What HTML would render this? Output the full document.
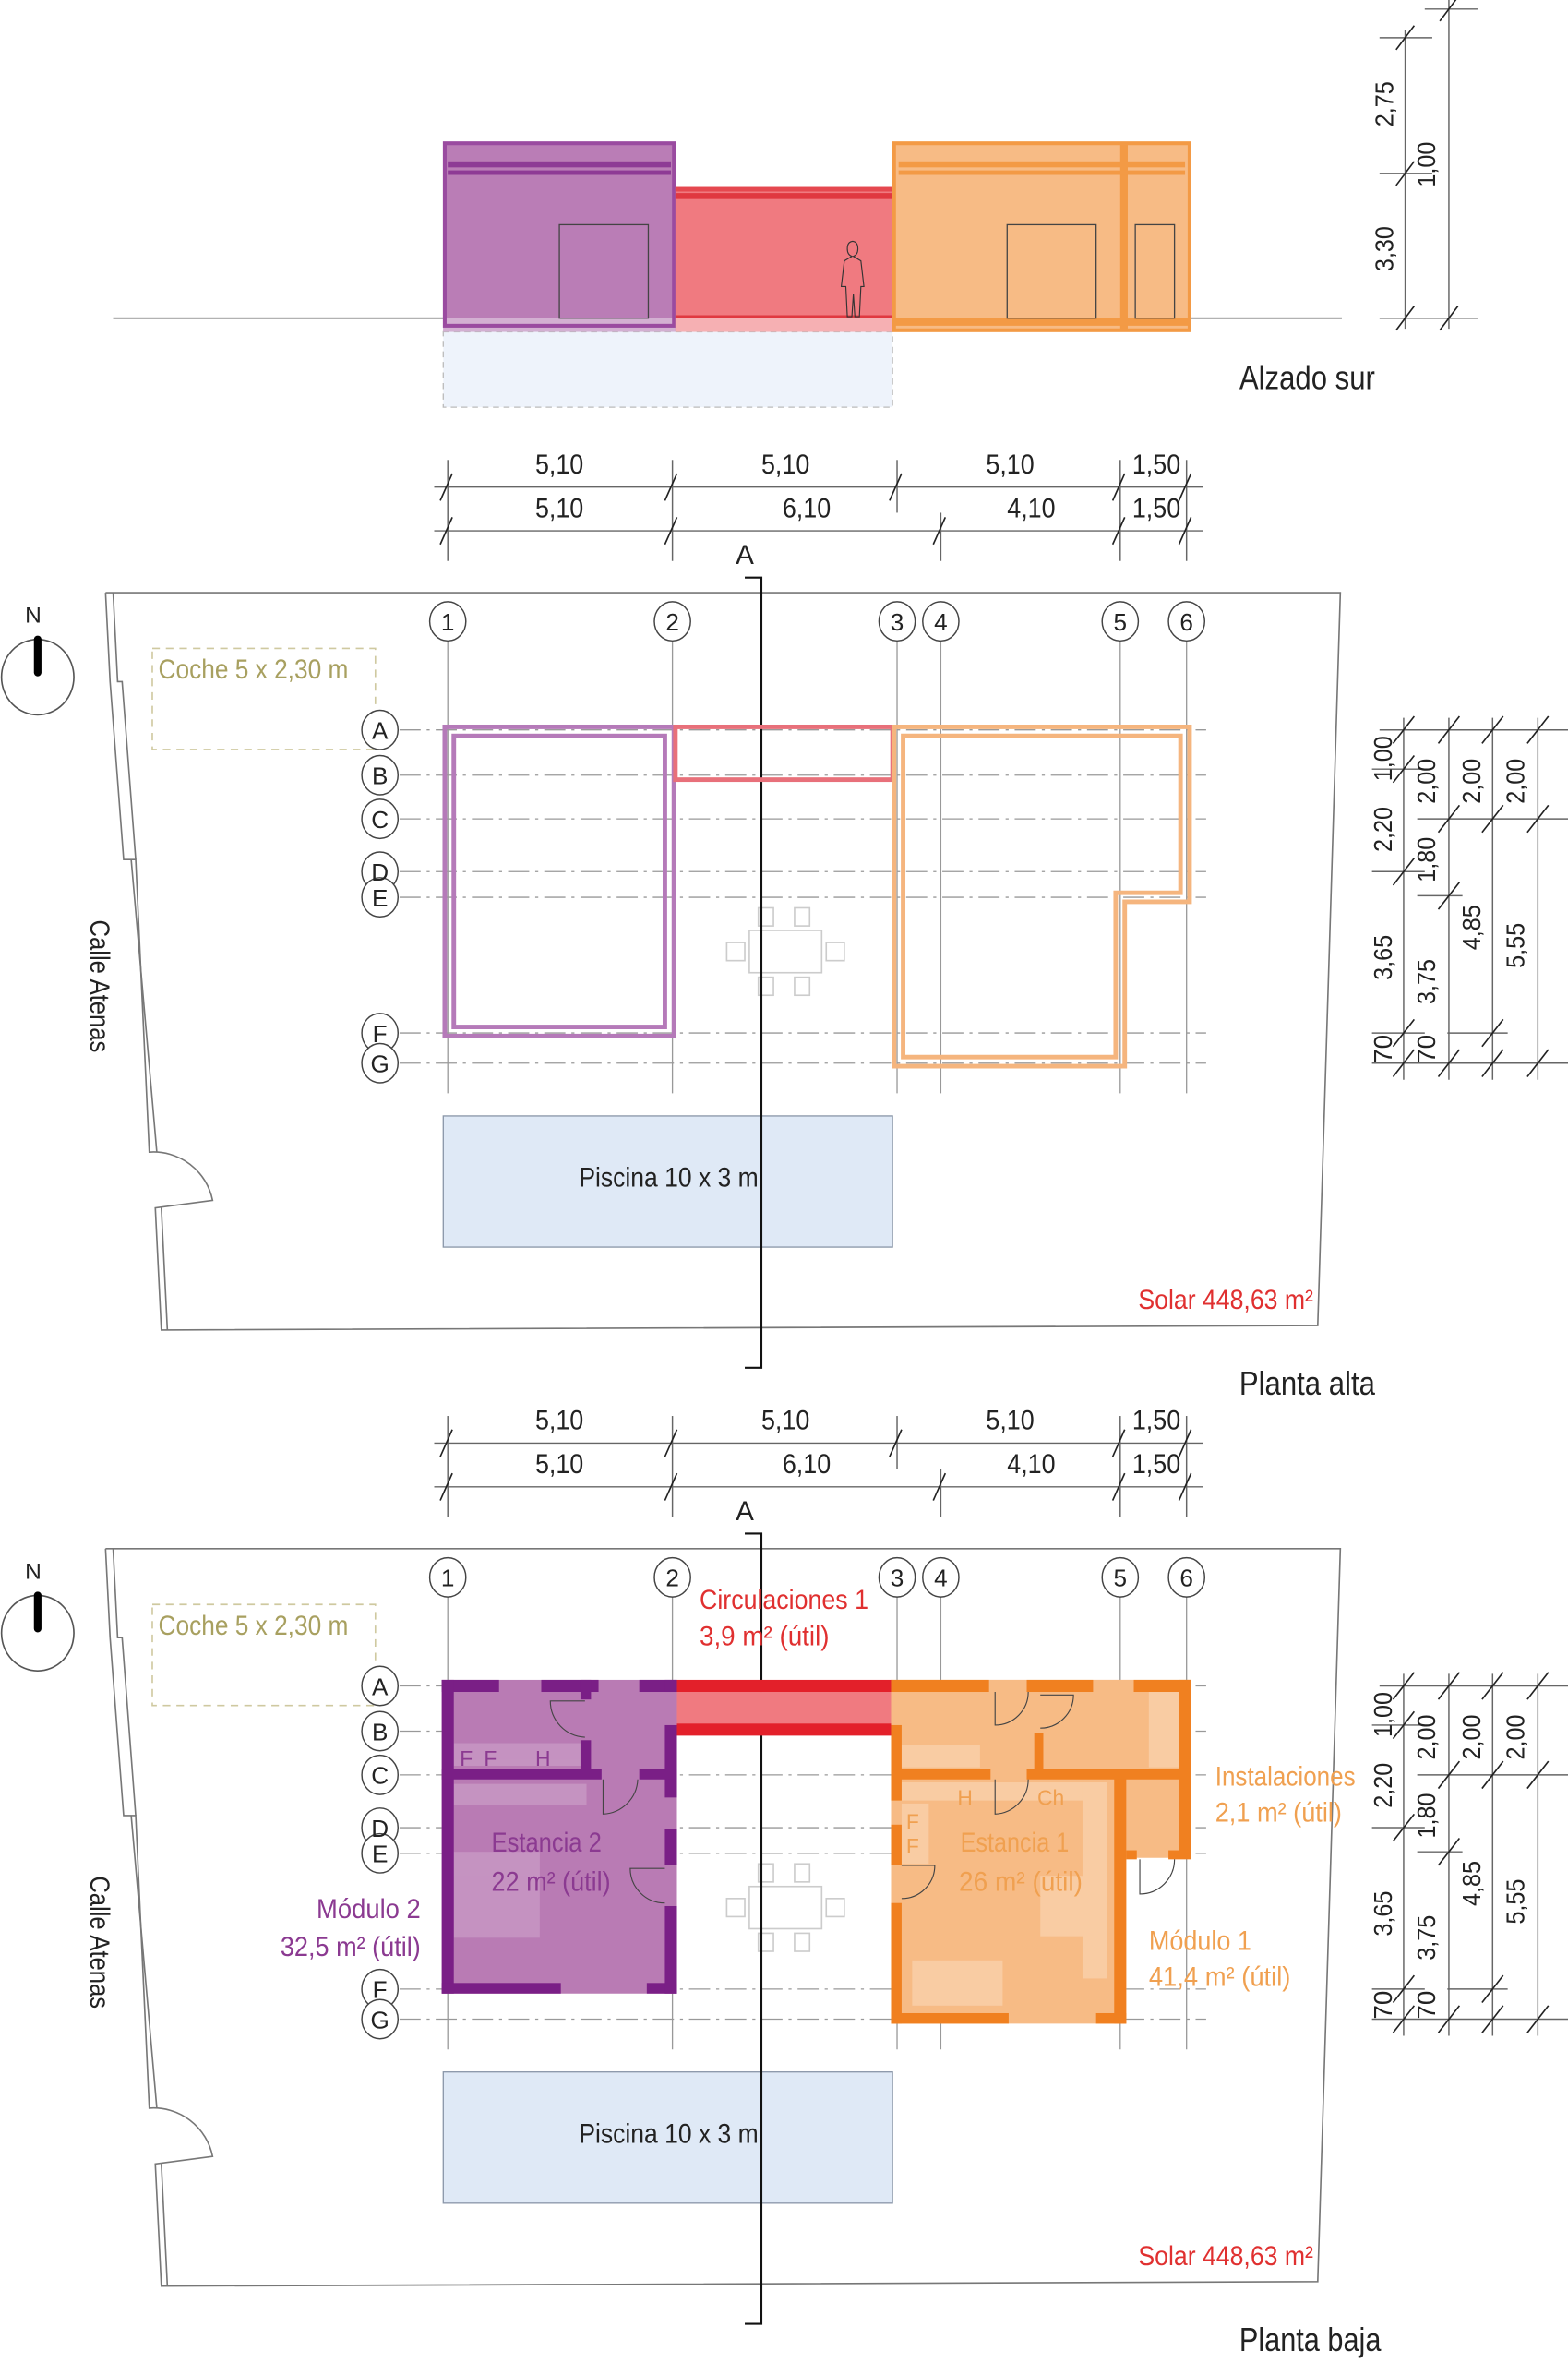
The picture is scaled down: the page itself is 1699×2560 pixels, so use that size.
<!DOCTYPE html>
<html><head><meta charset="utf-8">
<style>
html,body{margin:0;padding:0;background:#fff;}
svg{display:block;}
text{font-family:"Liberation Sans Narrow","Liberation Sans",sans-serif;}
</style></head>
<body>
<svg width="1699" height="2560" viewBox="0 0 1040 1567" preserveAspectRatio="none" xmlns="http://www.w3.org/2000/svg">
<defs>
<g id="plan">
  <path d="M70,393 L889,393 L874,879 L107,882 L103,801 L141,796 A40 40 0 0 0 99,764 L90,570 L82,570 L73,452 L70,393" fill="none" stroke="#777" stroke-width="1"/>
  <path d="M75,393 L78,452 L81,452 L90,570 M87,570 L104,764 M107,801 L111,882" fill="none" stroke="#777" stroke-width="1"/>
  <ellipse cx="25" cy="449" rx="24" ry="25" fill="none" stroke="#555" stroke-width="1"/>
  <line x1="25" y1="424" x2="25" y2="446" stroke="#000" stroke-width="5" stroke-linecap="round"/>
  <rect x="101" y="430" width="148" height="67" fill="none" stroke="#cfc9a0" stroke-width="1" stroke-dasharray="5,4"/>
  <g stroke="#999" stroke-width="0.8">
    <line x1="297" y1="425" x2="297" y2="725"/><line x1="446" y1="425" x2="446" y2="725"/>
    <line x1="595" y1="425" x2="595" y2="725"/><line x1="624" y1="425" x2="624" y2="725"/>
    <line x1="743" y1="425" x2="743" y2="725"/><line x1="787" y1="425" x2="787" y2="725"/>
  </g>
  <g stroke="#999" stroke-width="0.8" stroke-dasharray="14,4,2,4">
    <line x1="265" y1="484" x2="800" y2="484"/><line x1="265" y1="514" x2="800" y2="514"/>
    <line x1="265" y1="543" x2="800" y2="543"/><line x1="265" y1="578" x2="800" y2="578"/>
    <line x1="265" y1="595" x2="800" y2="595"/><line x1="265" y1="685" x2="800" y2="685"/>
    <line x1="265" y1="705" x2="800" y2="705"/>
  </g>
  <g fill="#fff" stroke="#444" stroke-width="0.9">
    <ellipse cx="297" cy="412" rx="12" ry="13"/><ellipse cx="446" cy="412" rx="12" ry="13"/>
    <ellipse cx="595" cy="412" rx="12" ry="13"/><ellipse cx="624" cy="412" rx="12" ry="13"/>
    <ellipse cx="743" cy="412" rx="12" ry="13"/><ellipse cx="787" cy="412" rx="12" ry="13"/>
    <ellipse cx="252" cy="484" rx="12" ry="13"/><ellipse cx="252" cy="514" rx="12" ry="13"/>
    <ellipse cx="252" cy="543" rx="12" ry="13"/><ellipse cx="252" cy="578" rx="12" ry="13"/>
    <ellipse cx="252" cy="595" rx="12" ry="13"/><ellipse cx="252" cy="685" rx="12" ry="13"/>
    <ellipse cx="252" cy="705" rx="12" ry="13"/>
  </g>
  <g fill="none" stroke="#ccc" stroke-width="1">
    <rect x="497" y="617" width="48" height="28"/>
    <rect x="503" y="602" width="10" height="12"/><rect x="527" y="602" width="10" height="12"/>
    <rect x="503" y="648" width="10" height="12"/><rect x="527" y="648" width="10" height="12"/>
    <rect x="482" y="625" width="12" height="12"/><rect x="548" y="625" width="12" height="12"/>
  </g>
  <rect x="294" y="740" width="298" height="87" fill="#dfe9f6" stroke="#8a96a8" stroke-width="0.8"/>
  <g stroke="#666" stroke-width="0.9">
    <line x1="288" y1="323" x2="798" y2="323"/><line x1="288" y1="352" x2="798" y2="352"/>
    <line x1="297" y1="305" x2="297" y2="372"/><line x1="446" y1="305" x2="446" y2="372"/>
    <line x1="595" y1="305" x2="595" y2="340"/><line x1="624" y1="340" x2="624" y2="372"/>
    <line x1="743" y1="305" x2="743" y2="372"/><line x1="787" y1="305" x2="787" y2="372"/>
  </g>
  <g stroke="#222" stroke-width="1">
    <line x1="292" y1="332" x2="300" y2="314"/><line x1="441" y1="332" x2="449" y2="314"/>
    <line x1="590" y1="332" x2="598" y2="314"/><line x1="738" y1="332" x2="746" y2="314"/>
    <line x1="782" y1="332" x2="790" y2="314"/>
    <line x1="292" y1="361" x2="300" y2="343"/><line x1="441" y1="361" x2="449" y2="343"/>
    <line x1="619" y1="361" x2="627" y2="343"/><line x1="738" y1="361" x2="746" y2="343"/>
    <line x1="782" y1="361" x2="790" y2="343"/>
  </g>
  <g stroke="#666" stroke-width="0.9">
    <line x1="931" y1="476" x2="931" y2="716"/><line x1="961" y1="476" x2="961" y2="716"/>
    <line x1="990" y1="476" x2="990" y2="716"/><line x1="1020" y1="476" x2="1020" y2="716"/>
    <line x1="915" y1="484" x2="1040" y2="484"/><line x1="940" y1="543" x2="1040" y2="543"/>
    <line x1="910" y1="578" x2="945" y2="578"/><line x1="940" y1="594" x2="970" y2="594"/>
    <line x1="910" y1="685" x2="945" y2="685"/><line x1="960" y1="685" x2="1000" y2="685"/>
    <line x1="910" y1="705" x2="1040" y2="705"/><line x1="910" y1="510" x2="945" y2="510"/>
  </g>
  <g stroke="#222" stroke-width="1">
    <line x1="924" y1="493" x2="938" y2="475"/><line x1="954" y1="493" x2="968" y2="475"/>
    <line x1="983" y1="493" x2="997" y2="475"/><line x1="1013" y1="493" x2="1027" y2="475"/>
    <line x1="924" y1="519" x2="938" y2="501"/>
    <line x1="954" y1="552" x2="968" y2="534"/><line x1="983" y1="552" x2="997" y2="534"/><line x1="1013" y1="552" x2="1027" y2="534"/>
    <line x1="924" y1="587" x2="938" y2="569"/><line x1="954" y1="603" x2="968" y2="585"/>
    <line x1="924" y1="694" x2="938" y2="676"/><line x1="983" y1="694" x2="997" y2="676"/>
    <line x1="924" y1="714" x2="938" y2="696"/><line x1="954" y1="714" x2="968" y2="696"/>
    <line x1="983" y1="714" x2="997" y2="696"/><line x1="1013" y1="714" x2="1027" y2="696"/>
  </g>
  <path d="M494,383 L505,383 L505,907 L494,907" fill="none" stroke="#111" stroke-width="1.3"/>
</g>
</defs>

<!-- ELEVATION -->
<line x1="75" y1="211" x2="890" y2="211" stroke="#666" stroke-width="1"/>
<rect x="294" y="220" width="298" height="50" fill="#eef3fb" stroke="#bbb" stroke-width="0.8" stroke-dasharray="4,3"/>
<rect x="294" y="95" width="154" height="125" fill="#ba7db6"/>
<rect x="294" y="211" width="154" height="9" fill="#d3b0d2"/>
<rect x="295" y="95" width="152" height="121" fill="none" stroke="#9a4ba0" stroke-width="2.5"/>
<rect x="297" y="107" width="148" height="4" fill="#8e3a95"/>
<rect x="297" y="113" width="148" height="3" fill="#8e3a95"/>
<rect x="371" y="149" width="59" height="62" fill="none" stroke="#444" stroke-width="0.8"/>
<rect x="448" y="124" width="144" height="96" fill="#f07a80"/>
<rect x="448" y="211" width="144" height="9" fill="#f6b0b3"/>
<rect x="448" y="124" width="144" height="3" fill="#e5484f"/>
<rect x="448" y="128" width="144" height="4" fill="#e03840"/>
<line x1="448" y1="210" x2="592" y2="210" stroke="#e03840" stroke-width="2"/>
<path d="M566,160 q-4,0 -4,5 q0,4 3,5 l-5,3 l-2,17 l3,0 l1,20 l3,0 l1,-15 l1,15 l3,0 l1,-20 l2,0 l-2,-17 l-5,-3 q3,-1 3,-5 q0,-5 -4,-5z" fill="none" stroke="#333" stroke-width="0.7"/>
<rect x="592" y="95" width="198" height="125" fill="#f7bb85"/>
<rect x="593" y="95" width="196" height="124" fill="none" stroke="#f39a45" stroke-width="2.5"/>
<rect x="743" y="95" width="5" height="125" fill="#f39a45"/>
<rect x="596" y="107" width="190" height="4" fill="#f39a45"/>
<rect x="596" y="113" width="190" height="3" fill="#f39a45"/>
<rect x="592" y="211" width="198" height="5" fill="#f39a45"/>
<rect x="668" y="149" width="59" height="62" fill="none" stroke="#444" stroke-width="0.8"/>
<rect x="753" y="149" width="26" height="62" fill="none" stroke="#444" stroke-width="0.8"/>
<g stroke="#666" stroke-width="0.9">
  <line x1="932" y1="20" x2="932" y2="218"/><line x1="961" y1="0" x2="961" y2="218"/>
  <line x1="915" y1="25" x2="950" y2="25"/><line x1="915" y1="115" x2="950" y2="115"/>
  <line x1="915" y1="211" x2="980" y2="211"/><line x1="945" y1="6" x2="980" y2="6"/>
</g>
<g stroke="#222" stroke-width="1">
  <line x1="926" y1="33" x2="938" y2="17"/><line x1="926" y1="123" x2="938" y2="107"/>
  <line x1="926" y1="219" x2="938" y2="203"/><line x1="955" y1="219" x2="967" y2="203"/>
  <line x1="955" y1="14" x2="967" y2="-2"/>
</g>
<g font-size="17" fill="#222">
  <text transform="translate(924,84) rotate(-90)" textLength="30" lengthAdjust="spacingAndGlyphs">2,75</text>
  <text transform="translate(952,124) rotate(-90)" textLength="30" lengthAdjust="spacingAndGlyphs">1,00</text>
  <text transform="translate(924,180) rotate(-90)" textLength="30" lengthAdjust="spacingAndGlyphs">3,30</text>
</g>
<text x="822" y="258" font-size="22" fill="#222" textLength="90" lengthAdjust="spacingAndGlyphs">Alzado sur</text>

<!-- PLANTA ALTA -->
<use href="#plan"/>
<g fill="none" stroke-width="3">
  <rect x="295" y="482" width="152" height="205" stroke="#b57ab9"/>
  <rect x="301" y="488" width="140" height="193" stroke="#b57ab9"/>
  <rect x="448" y="482" width="144" height="35" stroke="#e8707a"/>
  <polygon points="593,482 789,482 789,598 746,598 746,707 593,707" stroke="#f5b57e"/>
  <polygon points="599,488 783,488 783,592 740,592 740,701 599,701" stroke="#f5b57e"/>
</g>
<g font-size="18" fill="#222" text-anchor="middle">
  <text x="371" y="314" textLength="32" lengthAdjust="spacingAndGlyphs">5,10</text><text x="521" y="314" textLength="32" lengthAdjust="spacingAndGlyphs">5,10</text>
  <text x="670" y="314" textLength="32" lengthAdjust="spacingAndGlyphs">5,10</text><text x="767" y="314" textLength="32" lengthAdjust="spacingAndGlyphs">1,50</text>
  <text x="371" y="343" textLength="32" lengthAdjust="spacingAndGlyphs">5,10</text><text x="535" y="343" textLength="32" lengthAdjust="spacingAndGlyphs">6,10</text>
  <text x="684" y="343" textLength="32" lengthAdjust="spacingAndGlyphs">4,10</text><text x="767" y="343" textLength="32" lengthAdjust="spacingAndGlyphs">1,50</text>
  <text x="494" y="374">A</text>
</g>
<g font-size="16" fill="#222" text-anchor="middle">
  <text x="297" y="418">1</text><text x="446" y="418">2</text><text x="595" y="418">3</text>
  <text x="624" y="418">4</text><text x="743" y="418">5</text><text x="787" y="418">6</text>
  <text x="252" y="490">A</text><text x="252" y="520">B</text><text x="252" y="549">C</text>
  <text x="252" y="584">D</text><text x="252" y="601">E</text><text x="252" y="691">F</text>
  <text x="252" y="711">G</text>
</g>
<text x="22" y="413" font-size="15" fill="#222" text-anchor="middle">N</text>
<text x="105" y="450" font-size="18" fill="#a8a060" textLength="126" lengthAdjust="spacingAndGlyphs">Coche 5 x 2,30 m</text>
<text transform="translate(60,610) rotate(90)" font-size="18" fill="#222" textLength="88" lengthAdjust="spacingAndGlyphs">Calle Atenas</text>
<text x="384" y="787" font-size="18" fill="#222" textLength="119" lengthAdjust="spacingAndGlyphs">Piscina 10 x 3 m</text>
<text x="755" y="868" font-size="18" fill="#e03030" textLength="116" lengthAdjust="spacingAndGlyphs">Solar 448,63 m²</text>
<text x="822" y="925" font-size="22" fill="#222" textLength="90" lengthAdjust="spacingAndGlyphs">Planta alta</text>
<g font-size="17" fill="#222">
  <text transform="translate(923,518) rotate(-90)" textLength="30" lengthAdjust="spacingAndGlyphs">1,00</text>
  <text transform="translate(923,565) rotate(-90)" textLength="30" lengthAdjust="spacingAndGlyphs">2,20</text>
  <text transform="translate(923,650) rotate(-90)" textLength="30" lengthAdjust="spacingAndGlyphs">3,65</text>
  <text transform="translate(923,705) rotate(-90)">70</text>
  <text transform="translate(952,533) rotate(-90)" textLength="30" lengthAdjust="spacingAndGlyphs">2,00</text>
  <text transform="translate(952,585) rotate(-90)" textLength="30" lengthAdjust="spacingAndGlyphs">1,80</text>
  <text transform="translate(952,666) rotate(-90)" textLength="30" lengthAdjust="spacingAndGlyphs">3,75</text>
  <text transform="translate(952,705) rotate(-90)">70</text>
  <text transform="translate(982,533) rotate(-90)" textLength="30" lengthAdjust="spacingAndGlyphs">2,00</text>
  <text transform="translate(982,630) rotate(-90)" textLength="30" lengthAdjust="spacingAndGlyphs">4,85</text>
  <text transform="translate(1011,533) rotate(-90)" textLength="30" lengthAdjust="spacingAndGlyphs">2,00</text>
  <text transform="translate(1011,642) rotate(-90)" textLength="30" lengthAdjust="spacingAndGlyphs">5,55</text>
</g>

<!-- PLANTA BAJA -->
<use href="#plan" y="634"/>
<rect x="293" y="1114" width="156" height="208" fill="#b97bb4"/>
<g fill="#ffffff" opacity="0.18">
  <rect x="301" y="1183" width="88" height="14"/>
  <rect x="301" y="1228" width="57" height="57"/>
  <rect x="301" y="1156" width="84" height="15"/>
</g>
<g fill="#7a1f86">
  <rect x="293" y="1114" width="38" height="8"/><rect x="359" y="1114" width="38" height="8"/><rect x="424" y="1114" width="25" height="8"/>
  <rect x="293" y="1114" width="8" height="208"/>
  <rect x="293" y="1315" width="79" height="7"/><rect x="429" y="1315" width="20" height="7"/>
  <rect x="441" y="1114" width="8" height="8"/><rect x="441" y="1144" width="8" height="48"/>
  <rect x="441" y="1213" width="8" height="24"/><rect x="441" y="1264" width="8" height="58"/>
  <rect x="293" y="1173" width="106" height="7"/><rect x="424" y="1173" width="25" height="7"/>
  <rect x="385" y="1154" width="7" height="20"/><rect x="385" y="1114" width="7" height="13"/>
</g>
<g fill="none" stroke="#444" stroke-width="0.7">
  <path d="M388,1128 L365,1128 A24 24 0 0 0 388,1152"/>
  <path d="M400,1180 L400,1203 A24 24 0 0 0 423,1180"/>
  <path d="M441,1239 L418,1239 A23 23 0 0 0 441,1262"/>
</g>
<g font-size="14" fill="#8b3a91"><text x="305" y="1171">F</text><text x="321" y="1171">F</text><text x="355" y="1171">H</text></g>
<rect x="449" y="1122" width="143" height="22" fill="#f07a80"/>
<rect x="449" y="1114" width="143" height="8" fill="#e3202a"/>
<rect x="449" y="1143" width="143" height="8" fill="#e3202a"/>
<path d="M591,1114 L790,1114 L790,1232 L747,1232 L747,1342 L591,1342 Z" fill="#f7bb85"/>
<g fill="#ffffff" opacity="0.25">
  <rect x="598" y="1157" width="52" height="15"/><rect x="598" y="1182" width="120" height="12"/>
  <rect x="718" y="1182" width="16" height="130"/><rect x="605" y="1300" width="60" height="30"/>
  <rect x="690" y="1244" width="30" height="40"/><rect x="762" y="1122" width="20" height="50"/>
  <rect x="598" y="1196" width="18" height="40"/>
</g>
<g fill="#f08020">
  <rect x="591" y="1114" width="65" height="8"/><rect x="681" y="1114" width="44" height="8"/><rect x="752" y="1114" width="38" height="8"/>
  <rect x="782" y="1114" width="8" height="118"/>
  <rect x="747" y="1227" width="7" height="6"/><rect x="775" y="1227" width="15" height="6"/>
  <rect x="739" y="1173" width="8" height="169"/>
  <rect x="591" y="1335" width="78" height="7"/><rect x="727" y="1335" width="20" height="7"/>
  <rect x="591" y="1144" width="7" height="50"/><rect x="591" y="1210" width="7" height="27"/><rect x="591" y="1262" width="7" height="80"/>
  <rect x="591" y="1173" width="66" height="7"/><rect x="681" y="1173" width="109" height="7"/>
  <rect x="686" y="1149" width="6" height="25"/>
</g>
<g fill="none" stroke="#444" stroke-width="0.7">
  <path d="M660,1122 L660,1144 A22 22 0 0 0 682,1122"/>
  <path d="M690,1124 L712,1124 A22 22 0 0 1 690,1146"/>
  <path d="M660,1180 L660,1203 A23 23 0 0 0 682,1180"/>
  <path d="M598,1237 L620,1237 A22 22 0 0 1 598,1259"/>
  <path d="M756,1233 L756,1256 A23 23 0 0 0 779,1233"/>
</g>
<g font-size="14" fill="#f0a050"><text x="635" y="1197">H</text><text x="688" y="1197">Ch</text><text x="601" y="1213">F</text><text x="601" y="1229">F</text></g>
<g font-size="18" fill="#222" text-anchor="middle">
  <text x="371" y="948" textLength="32" lengthAdjust="spacingAndGlyphs">5,10</text><text x="521" y="948" textLength="32" lengthAdjust="spacingAndGlyphs">5,10</text>
  <text x="670" y="948" textLength="32" lengthAdjust="spacingAndGlyphs">5,10</text><text x="767" y="948" textLength="32" lengthAdjust="spacingAndGlyphs">1,50</text>
  <text x="371" y="977" textLength="32" lengthAdjust="spacingAndGlyphs">5,10</text><text x="535" y="977" textLength="32" lengthAdjust="spacingAndGlyphs">6,10</text>
  <text x="684" y="977" textLength="32" lengthAdjust="spacingAndGlyphs">4,10</text><text x="767" y="977" textLength="32" lengthAdjust="spacingAndGlyphs">1,50</text>
  <text x="494" y="1008">A</text>
</g>
<g font-size="16" fill="#222" text-anchor="middle">
  <text x="297" y="1052">1</text><text x="446" y="1052">2</text><text x="595" y="1052">3</text>
  <text x="624" y="1052">4</text><text x="743" y="1052">5</text><text x="787" y="1052">6</text>
  <text x="252" y="1124">A</text><text x="252" y="1154">B</text><text x="252" y="1183">C</text>
  <text x="252" y="1218">D</text><text x="252" y="1235">E</text><text x="252" y="1325">F</text>
  <text x="252" y="1345">G</text>
</g>
<text x="22" y="1047" font-size="15" fill="#222" text-anchor="middle">N</text>
<text x="105" y="1084" font-size="18" fill="#a8a060" textLength="126" lengthAdjust="spacingAndGlyphs">Coche 5 x 2,30 m</text>
<text transform="translate(60,1244) rotate(90)" font-size="18" fill="#222" textLength="88" lengthAdjust="spacingAndGlyphs">Calle Atenas</text>
<text x="384" y="1421" font-size="18" fill="#222" textLength="119" lengthAdjust="spacingAndGlyphs">Piscina 10 x 3 m</text>
<text x="755" y="1502" font-size="18" fill="#e03030" textLength="116" lengthAdjust="spacingAndGlyphs">Solar 448,63 m²</text>
<text x="822" y="1559" font-size="22" fill="#222" textLength="94" lengthAdjust="spacingAndGlyphs">Planta baja</text>
<g font-size="18">
  <text x="464" y="1067" fill="#e03030" textLength="112" lengthAdjust="spacingAndGlyphs">Circulaciones 1</text>
  <text x="464" y="1091" fill="#e03030" textLength="86" lengthAdjust="spacingAndGlyphs">3,9 m² (útil)</text>
  <text x="326" y="1228" fill="#8b3a91" textLength="73" lengthAdjust="spacingAndGlyphs">Estancia 2</text>
  <text x="326" y="1254" fill="#8b3a91" textLength="79" lengthAdjust="spacingAndGlyphs">22 m² (útil)</text>
  <text x="210" y="1272" fill="#8b3a91" textLength="69" lengthAdjust="spacingAndGlyphs">Módulo 2</text>
  <text x="186" y="1297" fill="#8b3a91" textLength="93" lengthAdjust="spacingAndGlyphs">32,5 m² (útil)</text>
  <text x="637" y="1228" fill="#f0a050" textLength="72" lengthAdjust="spacingAndGlyphs">Estancia 1</text>
  <text x="636" y="1254" fill="#f0a050" textLength="82" lengthAdjust="spacingAndGlyphs">26 m² (útil)</text>
  <text x="806" y="1184" fill="#f0a050" textLength="93" lengthAdjust="spacingAndGlyphs">Instalaciones</text>
  <text x="806" y="1208" fill="#f0a050" textLength="84" lengthAdjust="spacingAndGlyphs">2,1 m² (útil)</text>
  <text x="762" y="1293" fill="#f0a050" textLength="68" lengthAdjust="spacingAndGlyphs">Módulo 1</text>
  <text x="762" y="1317" fill="#f0a050" textLength="94" lengthAdjust="spacingAndGlyphs">41,4 m² (útil)</text>
</g>
<g font-size="17" fill="#222">
  <text transform="translate(923,1152) rotate(-90)" textLength="30" lengthAdjust="spacingAndGlyphs">1,00</text>
  <text transform="translate(923,1199) rotate(-90)" textLength="30" lengthAdjust="spacingAndGlyphs">2,20</text>
  <text transform="translate(923,1284) rotate(-90)" textLength="30" lengthAdjust="spacingAndGlyphs">3,65</text>
  <text transform="translate(923,1339) rotate(-90)">70</text>
  <text transform="translate(952,1167) rotate(-90)" textLength="30" lengthAdjust="spacingAndGlyphs">2,00</text>
  <text transform="translate(952,1219) rotate(-90)" textLength="30" lengthAdjust="spacingAndGlyphs">1,80</text>
  <text transform="translate(952,1300) rotate(-90)" textLength="30" lengthAdjust="spacingAndGlyphs">3,75</text>
  <text transform="translate(952,1339) rotate(-90)">70</text>
  <text transform="translate(982,1167) rotate(-90)" textLength="30" lengthAdjust="spacingAndGlyphs">2,00</text>
  <text transform="translate(982,1264) rotate(-90)" textLength="30" lengthAdjust="spacingAndGlyphs">4,85</text>
  <text transform="translate(1011,1167) rotate(-90)" textLength="30" lengthAdjust="spacingAndGlyphs">2,00</text>
  <text transform="translate(1011,1276) rotate(-90)" textLength="30" lengthAdjust="spacingAndGlyphs">5,55</text>
</g>
</svg>
</body></html>
